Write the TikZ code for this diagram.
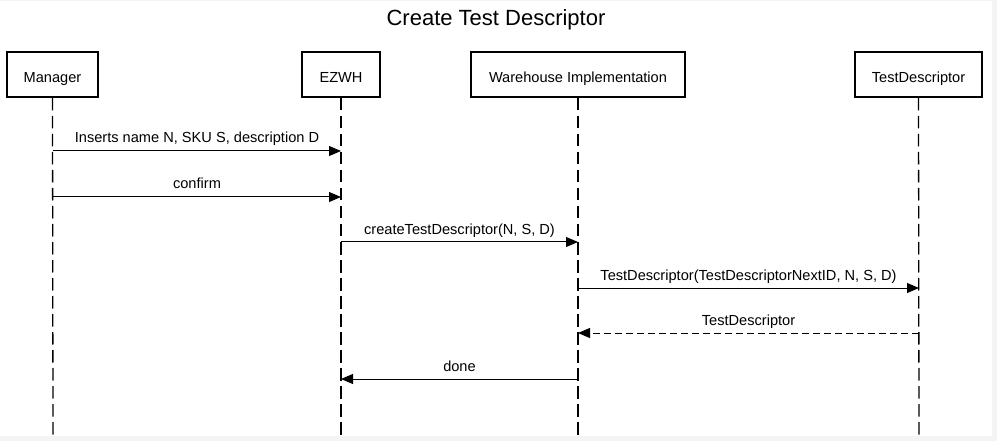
\documentclass[tikz,border=0pt]{standalone}
\usepackage{fontspec}
\setmainfont{Liberation Sans}
\usetikzlibrary{arrows.meta}
\definecolor{outer}{HTML}{F4F4F4}
\begin{document}
\begin{tikzpicture}[x=1pt,y=-1pt,
  actor/.style={draw,line width=2pt,minimum height=45pt,inner sep=0pt,text height=17pt,text depth=0pt,font=\fontsize{14.6}{17}\selectfont},
  life/.style={line width=1.3pt,dash pattern=on 12.5pt off 5.5pt},
  msg/.style={line width=1pt,-{Triangle[length=12pt,width=10pt]}},
  ret/.style={msg,dash pattern=on 7pt off 4pt},
  lbl/.style={font=\fontsize{14.6}{17}\selectfont,inner sep=0pt,anchor=base,yshift=8pt}]
\useasboundingbox (0,0) rectangle (997,441);
\fill[outer] (0,0) rectangle (997,441);
\fill[white] (0,1) rectangle (992,435.5);
\node[font=\fontsize{22}{26}\selectfont,anchor=base] (title) at (496,26) {Create Test Descriptor};
% actors
\node[actor,minimum width=91pt] (man) at (52.5,74.5) {Manager};
\node[actor,minimum width=78pt] (ez) at (341,74.5) {EZWH};
\node[actor,minimum width=214pt] (wi) at (578,74.5) {Warehouse Implementation};
\node[actor,minimum width=127pt] (td) at (918.5,74.5) {TestDescriptor};
% lifeline ends
\coordinate (manE) at (53,436);
\coordinate (ezE) at (341,436);
\coordinate (wiE) at (578,436);
\coordinate (tdE) at (919,436);
\draw[life] (man.south) -- (manE);
\draw[life] (ez.south) -- (ezE);
\draw[life] (wi.south) -- (wiE);
\draw[life] (td.south) -- (tdE);
% message anchors
\coordinate (m1a) at (53,151); \coordinate (m1b) at (341,151);
\coordinate (m2a) at (53,197); \coordinate (m2b) at (341,197);
\coordinate (m3a) at (341,242); \coordinate (m3b) at (578,242);
\coordinate (m4a) at (578,288); \coordinate (m4b) at (919,288);
\coordinate (m5a) at (919,333); \coordinate (m5b) at (578,333);
\coordinate (m6a) at (578,379); \coordinate (m6b) at (341,379);
\draw[msg] (m1a) -- node[lbl] {Inserts name N, SKU S, description D} (m1b);
\draw[msg] (m2a) -- node[lbl] {confirm} (m2b);
\draw[msg] (m3a) -- node[lbl] {createTestDescriptor(N, S, D)} (m3b);
\draw[msg] (m4a) -- node[lbl] {TestDescriptor(TestDescriptorNextID, N, S, D)} (m4b);
\draw[ret] (m5a) -- node[lbl] {TestDescriptor} (m5b);
\draw[msg] (m6a) -- node[lbl] {done} (m6b);
\end{tikzpicture}
\end{document}
